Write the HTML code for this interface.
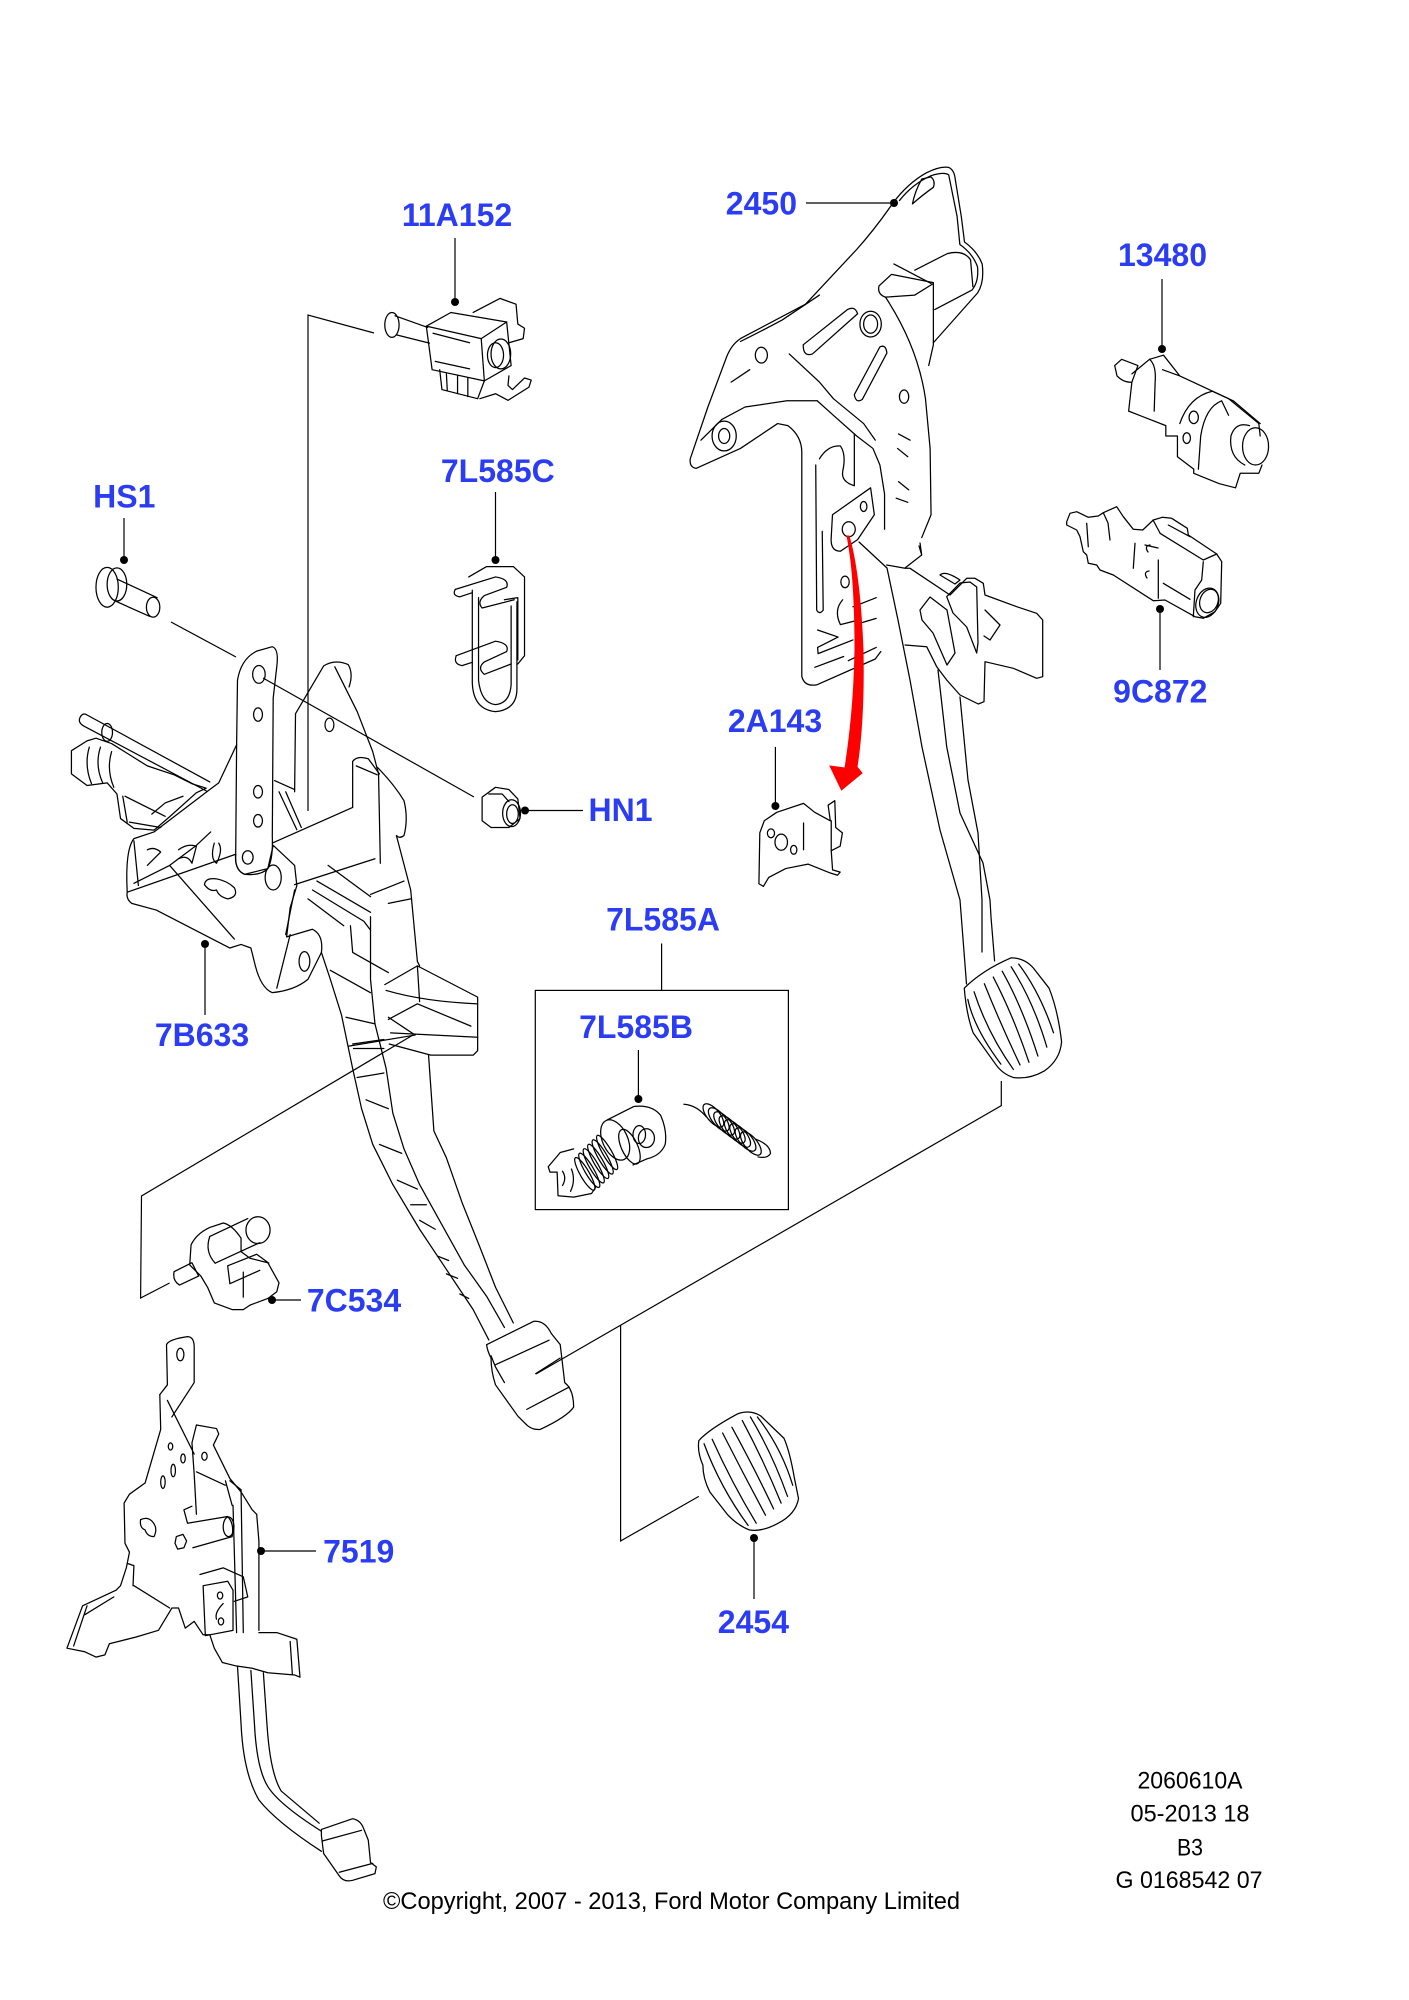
<!DOCTYPE html>
<html><head><meta charset="utf-8">
<style>
html,body{margin:0;padding:0;background:#fff;}
svg{display:block;}
.d *{fill:none;stroke:#000;stroke-width:1.25;vector-effect:non-scaling-stroke;stroke-linejoin:round;stroke-linecap:round;}
.l{fill:none;stroke:#000;stroke-width:1.2;}
.lab{font-family:"Liberation Sans",Arial,sans-serif;font-weight:bold;font-size:32px;fill:#2b3cf5;text-anchor:middle;}
.bt{font-family:"Liberation Sans",Arial,sans-serif;font-size:24px;fill:#000;text-anchor:middle;}
</style></head>
<body>
<svg width="1409" height="2000" viewBox="0 0 1409 2000" xmlns="http://www.w3.org/2000/svg">
<rect width="1409" height="2000" fill="#fff"/>

<!-- ===== Zoom1 region parts: 11A152, 7L585C, HS1 ===== -->
<g class="d" transform="translate(0,150) scale(0.4464,0.4145)">
  <ellipse cx="878" cy="422" rx="16" ry="30"/>
  <path d="M885,400 L958,428 M888,446 L962,466"/>
  <path d="M955,425 L1010,392 L1135,415 L1078,455 Z"/>
  <path d="M955,425 L968,530 L1085,557 L1078,455"/>
  <path d="M1135,415 L1145,520 L1085,557"/>
  <ellipse cx="1122" cy="492" rx="22" ry="36"/>
  <ellipse cx="1110" cy="495" rx="18" ry="30"/>
  <path d="M1060,392 L1120,358 L1156,372 L1160,420 L1175,430 L1172,455 L1140,465"/>
  <path d="M970,442 L1052,465 M975,510 L1052,528"/>
  <path d="M985,530 L990,578 L1070,600 L1085,557 M1000,540 L1002,580 M1025,545 L1025,588 M1048,550 L1048,595"/>
  <path d="M1075,600 L1110,588 L1138,604 L1185,572 L1190,555 L1175,550 L1148,578 L1138,568 L1140,545"/>
  <!-- 7L585C clip -->
  <path d="M1058,1062 L1058,1285 Q1060,1350 1110,1355 Q1158,1350 1158,1300 L1158,1090"/>
  <path d="M1072,1080 L1072,1280 Q1078,1335 1110,1338 Q1142,1335 1145,1290 L1145,1100"/>
  <path d="M1020,1060 L1110,1030 Q1142,1035 1135,1055 L1085,1075 Q1068,1090 1080,1105 L1152,1085"/>
  <path d="M1020,1060 Q1012,1075 1030,1078 L1058,1068"/>
  <path d="M1022,1220 L1110,1185 Q1142,1190 1135,1210 L1085,1235 Q1068,1250 1085,1265 L1145,1240"/>
  <path d="M1022,1220 Q1015,1240 1035,1244 L1058,1236"/>
  <path d="M1050,1030 L1090,1005 L1150,1005 L1175,1030 L1175,1220 L1160,1240"/>
  <path d="M1130,1085 L1160,1080 L1160,1230"/>
  <!-- HS1 bolt -->
  <ellipse cx="240" cy="1055" rx="25" ry="48"/>
  <ellipse cx="262" cy="1048" rx="22" ry="40"/>
  <path d="M262,1035 L352,1080 M258,1088 L335,1125"/>
  <ellipse cx="343" cy="1103" rx="15" ry="24"/>
</g>

<!-- ===== Zoom2 region parts: brake bracket 2450, 13480 ===== -->
<g class="d" transform="translate(680,150) scale(0.4649,0.4145)">
  <path d="M458,128 Q490,80 530,55 Q560,38 578,42 Q590,48 592,70 L605,160 L612,222 Q640,245 650,275 Q655,320 640,345 L545,465"/>
  <path d="M472,122 Q500,82 540,62 Q568,52 578,60 L596,160 L602,228 Q630,250 640,282 Q643,318 628,338 L548,385"/>
  <path d="M458,128 Q420,190 380,240 Q330,300 270,372 L130,455 Q110,470 100,500 L60,620 L22,745 Q20,766 35,768 L130,720 L210,660 L232,665"/>
  <path d="M130,462 Q170,440 220,410 L300,350 M110,560 L150,530 M45,700 L90,650 L140,620 L230,605 L295,605"/>
  <path d="M295,605 L330,640 L380,690 L415,720 L430,760 L440,830 L440,915"/>
  <path d="M235,492 L300,560 L330,600 M330,600 L395,660 L420,700"/>
  <path d="M520,70 Q505,100 500,130 Q520,110 545,90 Q550,75 540,65 Z"/>
  <ellipse cx="175" cy="495" rx="13" ry="19"/>
  <ellipse cx="95" cy="690" rx="26" ry="36"/>
  <ellipse cx="95" cy="690" rx="12" ry="18"/>
  <ellipse cx="410" cy="420" rx="23" ry="31"/>
  <ellipse cx="410" cy="420" rx="15" ry="22"/>
  <ellipse cx="482" cy="595" rx="10" ry="16"/>
  <path d="M265,470 L360,385 Q376,375 382,395 L285,492 Q265,500 265,470 Z"/>
  <path d="M375,590 L430,475 Q443,468 445,490 L392,602 Q378,612 375,590 Z"/>
  <path d="M428,328 L455,300 L545,320 L545,385 M428,328 Q424,348 442,355 L505,350 L545,322"/>
  <path d="M460,275 L540,322 M505,290 L575,250 Q610,240 625,265 L630,330"/>
  <path d="M442,355 C480,420 515,500 528,600 L538,720 L540,880 L520,935"/>
  <path d="M545,385 L545,470 L535,520"/>
  <path d="M470,685 L495,700 M468,720 L490,740 M470,800 L492,820 M465,840 L490,850"/>
  <path d="M232,665 Q262,690 262,730 L262,1270 Q268,1296 295,1290 L420,1228 L432,1210"/>
  <path d="M292,760 L294,1110 Q300,1122 308,1110 L306,920"/>
  <path d="M300,745 Q318,712 345,714 Q358,735 350,775 Q346,800 375,810 L375,685"/>
  <path d="M328,880 L410,815 L418,880 L382,940 L345,968 Q325,968 325,940 Z"/>
  <ellipse cx="363" cy="915" rx="14" ry="18"/>
  <ellipse cx="395" cy="860" rx="7" ry="12"/>
  <ellipse cx="355" cy="1042" rx="9" ry="14"/>
  <path d="M350,1085 Q330,1110 345,1145 L380,1135"/>
  <path d="M296,1158 L340,1175 L296,1200 L297,1215 L372,1182 M290,1248 L352,1222"/>
  <path d="M372,1102 L422,1080 M386,1142 L422,1130 M362,1232 L422,1200"/>
  <!-- 13480 switch -->
  <path d="M935,520 L950,505 L985,520 L972,560 Q955,562 940,545 Z"/>
  <path d="M972,540 L1010,505 L1040,495 L1075,545 L1180,600 L1245,660 L1248,690"/>
  <path d="M972,560 L965,630 L1045,665 L1045,690 L1070,690 L1070,740 L1105,770 L1105,780 L1160,805 L1195,815 L1205,780 L1245,780 L1252,760"/>
  <ellipse cx="1238" cy="715" rx="28" ry="45"/>
  <path d="M1215,760 Q1180,740 1185,690 Q1195,655 1225,665"/>
  <path d="M1075,660 Q1095,595 1145,582 L1190,605 L1248,660"/>
  <path d="M1115,770 L1120,690 Q1130,620 1165,605 L1180,640"/>
  <path d="M1010,505 Q1025,520 1022,560 L1020,630 M1038,530 L1075,545"/>
  <ellipse cx="1105" cy="645" rx="10" ry="15"/>
  <ellipse cx="1090" cy="695" rx="8" ry="13"/>
</g>

<!-- 9C872 switch (actual coords) -->
<g class="d">
  <path d="M1066.7,521.7 L1070,513.3 L1076.7,511.7 L1088.3,517.3 L1098.3,516 L1103.3,512.7 L1116.7,506.7 L1120,511.7 L1123.3,516.7 L1133.3,529.3 L1142.7,530 L1153.3,520 L1162.3,517.3 L1171.7,518.3 L1187.3,528.3 L1188.3,535 L1216.7,554 L1221.7,561.7 L1220.7,603.3 L1215,611.7 L1203.3,618.3 L1195,616.7 L1165,600 L1153.3,600.7 L1113.3,575 L1100,570 L1096.7,565 L1088.3,563.3 L1086.7,555 L1083.3,551.7 L1080,536.7 L1076.7,530 L1066.7,525 Z"/>
  <ellipse cx="1207.3" cy="602.7" rx="11" ry="15" transform="rotate(20 1207.3 602.7)"/>
  <ellipse cx="1209" cy="601" rx="9" ry="12" transform="rotate(20 1209 601)"/>
  <path d="M1160,533.3 L1203.3,560 L1216.7,554 M1168.3,525 L1190,536.7"/>
  <path d="M1203.3,561.7 L1201.7,580 L1195,590 L1193.3,616.7"/>
  <path d="M1158.3,560 L1158.3,598.3 M1163.3,583.3 L1190,599.3"/>
  <path d="M1135,543.3 L1133.3,568.3 M1086.7,523.3 L1088.3,546.7 M1103.3,512.7 L1108,523 L1110,540"/>
  <path d="M1148,552 Q1144,546 1150,545 M1147,578 Q1143,572 1149,571"/>
  <path d="M1153,520 L1160,533 M1145,545 L1158,548"/>
</g>

<!-- brake pedal arm + flange (actual coords) -->
<g class="d">
  <path d="M859,542 L887,568 L898,620 L910,680 L922,747 L940,830 L960,900 L966.5,984"/>
  <path d="M919,546 L921.7,555 L920,543 M905,568 L921.7,555"/>
  <path d="M938,670 L946.7,746.7 L960,813 L983,863 L990,900 L991,917 L994.6,961"/>
  <path d="M960,697 L968,780 L978,833 L982,900 L982,952"/>
  <path d="M886.7,565 L905,568.3 L910,568.3 L950,595 L966.7,578.3 L975,578.3 L983.3,583.3 L985,595 L1016.7,606.7 L1036.7,613.3 L1042.7,620 L1042.7,676.7 L1036.7,678.3 L1013.3,668.3 L985,661.7 L984,701.7 L978.3,704 L960,695 L946.7,680 L936.7,666.7 L926.7,646.7 L905,645"/>
  <path d="M920,610 L930,597 L947,610 L955,653 L947,665 L933,633 L922,620 Z"/>
  <path d="M946.7,596.7 L960,583 L970,582 L976.7,587 L978,643 L976.7,653 L966.7,627 L953,613 Z"/>
  <path d="M940,575 Q945,570 960,580 L955,584 Z"/>
  <path d="M985,610 L1000,625 L990,640 L984,636"/>
</g>

<!-- red arrow -->
<path d="M849,536 C856,560 861,600 863,650 C864,700 862,735 857,767 L862,773 L841.5,790 L830,766 L845,768 C850,735 854,700 855,650 C855,600 852,560 847,536 Z" fill="#ff0000" stroke="#ff0000" stroke-width="1"/>

<!-- ===== Zoom3 region: clutch assembly, HN1, 7C534 ===== -->
<g class="d" transform="translate(0,640) scale(0.4464)">
  <path d="M180,172 Q172,186 192,195 L462,338 M195,168 L470,318 M180,172 Q186,162 195,168"/>
  <ellipse cx="240" cy="207" rx="12" ry="20"/>
  <path d="M160,248 L160,300 L195,326 L240,320 L262,345 L270,400 L300,422 L345,426 L380,396 L440,342 L462,332 L430,322 L390,302 L330,282 L250,232 L215,220 L195,226 Z"/>
  <path d="M200,240 Q188,280 205,322 M225,240 Q212,280 230,320 M250,250 Q238,290 255,330"/>
  <path d="M275,350 L285,408 M280,350 L370,395 M290,408 L360,420"/>
  <path d="M340,390 L370,365 L410,350"/>
  <path d="M530,240 L532,90 Q540,42 575,25 L610,15 Q625,20 620,60 L612,130 L610,440 Q612,490 600,512 Q585,528 548,525 Q525,515 528,480 Z"/>
  <ellipse cx="580" cy="77" rx="14" ry="20"/>
  <ellipse cx="578" cy="167" rx="10" ry="15"/>
  <ellipse cx="578" cy="340" rx="10" ry="14"/>
  <ellipse cx="578" cy="405" rx="10" ry="14"/>
  <ellipse cx="555" cy="487" rx="12" ry="15"/>
  <path d="M660,340 L662,165 L725,58 Q750,42 780,55 Q792,75 782,105"/>
  <path d="M750,60 L800,160 L835,250 L848,300 L852,500"/>
  <path d="M845,285 Q882,322 905,360 Q915,400 905,438 Q895,446 888,438 L920,560 L935,720 L940,730"/>
  <ellipse cx="738" cy="190" rx="10" ry="15"/>
  <path d="M610,455 L790,375 M660,548 L840,490"/>
  <path d="M790,375 L790,272 Q800,258 825,266 L850,300 M798,282 L845,302"/>
  <path d="M615,315 L660,335 M625,340 L665,425 M640,340 L675,420"/>
  <path d="M285,565 Q280,470 300,445 L345,430 L470,335 L490,320 L530,235 M528,480 Q525,515 548,525 L600,512 L612,460 L660,505 L665,550 L650,600 L642,665 L700,648 Q725,660 720,700 L690,760 Q660,785 610,790 Q585,780 572,730 L562,690 L540,682 L515,690 L350,605 L295,590 Q282,580 285,565 Z"/>
  <path d="M300,545 L380,505 L525,670 M380,505 L440,460 L472,430"/>
  <path d="M330,470 Q345,462 360,475 L330,505 M300,450 L310,550"/>
  <path d="M400,470 Q420,455 440,462 L430,500 Q420,480 400,490"/>
  <path d="M480,455 Q470,490 485,500 Q500,470 490,455"/>
  <ellipse cx="612" cy="532" rx="18" ry="28"/>
  <path d="M458,548 Q460,532 485,535 Q510,540 525,555 Q535,575 510,580 Q490,575 485,560 Q470,565 458,548 Z"/>
  <ellipse cx="682" cy="720" rx="12" ry="22"/>
  <path d="M640,660 L660,560 M620,780 L650,660"/>
  <path d="M720,700 L740,760 L765,840 L790,960 L810,1050 L835,1130 L880,1220 L940,1320 L1000,1410 L1060,1500 L1095,1568"/>
  <path d="M830,620 L830,760 L840,860 L865,960 L880,1060 L905,1140 L940,1220 L990,1310 L1040,1400 L1090,1470 L1130,1540"/>
  <path d="M960,930 L972,1100 L1000,1160 L1035,1260 L1075,1360 L1110,1450 L1150,1530"/>
  <path d="M700,560 L815,630 L830,650 M710,540 L830,610"/>
  <path d="M735,505 L830,575 M690,580 L770,640 M740,740 L830,790 M775,845 L840,860 M790,905 L860,895 M792,915 L860,915 M820,1030 L870,1050 M850,1130 L900,1150 M890,1210 L935,1230 M920,1265 L955,1265 M940,1300 L975,1320 M980,1380 L1005,1390 M1000,1420 L1025,1430 M1030,1465 L1050,1475"/>
  <path d="M780,910 L930,885 L870,845 M800,980 L860,970"/>
  <path d="M862,772 L935,730 L1070,800 L1070,920 L1060,930 L965,930 L872,905"/>
  <path d="M935,730 L940,810 M865,785 Q950,810 1070,815 M870,850 L935,815 L1055,865 M875,880 L1070,890 M785,640 L790,700 L870,745"/>
  <path d="M830,570 L905,540 M870,590 L920,580"/>
  <path d="M1080,352 L1110,330 L1140,335 L1160,356 L1165,400 L1140,420 L1100,420 L1080,405 Z"/>
  <ellipse cx="1146" cy="388" rx="20" ry="30"/>
  <ellipse cx="1148" cy="390" rx="13" ry="21"/>
  <path d="M1095,345 L1125,345 L1140,362"/>
  <path d="M390,1415 L430,1395 L445,1425 L402,1445 Q386,1435 390,1415 Z"/>
  <path d="M425,1400 L428,1355 Q440,1330 470,1316 L500,1306 Q520,1310 540,1340 L540,1370 L560,1385 L600,1395 L625,1440 L620,1460 L600,1475 L560,1490 L545,1500 L520,1500 L480,1485 L465,1450 L450,1425 Z"/>
  <path d="M470,1336 L555,1296 M482,1396 L582,1350"/>
  <ellipse cx="578" cy="1322" rx="27" ry="30"/>
  <path d="M470,1336 Q458,1370 482,1396"/>
  <path d="M510,1402 L575,1376 L602,1396 M515,1442 L582,1412 M545,1416 L545,1472 M510,1402 L515,1442"/>
</g>

<!-- ===== Zoom4 region: 2A143, 7L585B, spring, brake pad ===== -->
<g class="d" transform="translate(500,640) scale(0.4464)">
  <path d="M1040,780 Q1080,740 1145,712 Q1175,712 1195,735 L1230,780 Q1250,830 1258,900 Q1255,940 1220,965 Q1185,985 1150,980 Q1125,972 1110,950 L1060,880 Q1045,840 1040,780 Z"/>
  <path d="M1048,805 Q1062,870 1122,950"/>
  <path d="M1062,788 Q1092,880 1150,962 M1085,770 Q1122,862 1165,952 M1105,755 Q1150,842 1185,946 M1125,742 Q1170,822 1205,932 M1145,732 Q1195,810 1225,912 M1162,726 Q1210,790 1240,880"/>
  <path d="M582,432 L592,405 L620,386 L680,366 L705,386 L740,405 L735,370 L750,360 L752,420 L767,432 L762,462 L742,472 L745,515 L762,520 L756,527 L740,522 L690,502 L640,512 L602,532 L590,552 L580,546 Z"/>
  <path d="M680,410 L680,470 M742,405 L742,472"/>
  <ellipse cx="607" cy="433" rx="8" ry="10"/>
  <ellipse cx="630" cy="453" rx="14" ry="18"/>
  <ellipse cx="658" cy="470" rx="7" ry="10"/>
  <path d="M240,1075 L300,1045 Q340,1040 360,1065 Q375,1100 370,1130 Q360,1155 330,1162 L298,1176"/>
  <ellipse cx="328" cy="1116" rx="18" ry="21"/>
  <ellipse cx="312" cy="1108" rx="14" ry="20"/>
  <ellipse cx="258" cy="1120" rx="28" ry="48" transform="rotate(-25 258 1120)"/>
  <ellipse cx="290" cy="1135" rx="18" ry="42" transform="rotate(-25 290 1135)"/>
  <g>
    <ellipse cx="240" cy="1148" rx="10" ry="44" transform="rotate(-30 240 1148)"/>
    <ellipse cx="230" cy="1158" rx="10" ry="44" transform="rotate(-30 230 1158)"/>
    <ellipse cx="220" cy="1168" rx="10" ry="44" transform="rotate(-30 220 1168)"/>
    <ellipse cx="210" cy="1178" rx="10" ry="44" transform="rotate(-30 210 1178)"/>
    <ellipse cx="200" cy="1188" rx="10" ry="44" transform="rotate(-30 200 1188)"/>
    <ellipse cx="190" cy="1196" rx="10" ry="42" transform="rotate(-30 190 1196)"/>
  </g>
  <path d="M165,1140 L135,1148 L108,1180 L112,1192 L128,1192 L130,1245 L165,1248 L205,1240 L215,1225"/>
  <path d="M140,1190 Q150,1205 140,1222 M160,1185 Q170,1210 158,1235"/>
  <path d="M412,1040 Q440,1042 462,1068"/>
  <g>
    <ellipse cx="478" cy="1065" rx="14" ry="32" transform="rotate(-40 478 1065)"/>
    <ellipse cx="490" cy="1074" rx="14" ry="32" transform="rotate(-40 490 1074)"/>
    <ellipse cx="502" cy="1083" rx="14" ry="32" transform="rotate(-40 502 1083)"/>
    <ellipse cx="514" cy="1092" rx="14" ry="32" transform="rotate(-40 514 1092)"/>
    <ellipse cx="526" cy="1101" rx="14" ry="32" transform="rotate(-40 526 1101)"/>
    <ellipse cx="538" cy="1110" rx="14" ry="32" transform="rotate(-40 538 1110)"/>
    <ellipse cx="550" cy="1119" rx="14" ry="32" transform="rotate(-40 550 1119)"/>
    <ellipse cx="562" cy="1128" rx="14" ry="32" transform="rotate(-40 562 1128)"/>
  </g>
  <path d="M572,1118 Q605,1130 606,1150 Q600,1162 578,1158"/>
</g>

<!-- ===== Zoom5 region: 7519, clutch pad ===== -->
<g class="d" transform="translate(0,1300) scale(0.4464)">
  <path d="M1090,100 L1195,48 Q1220,45 1235,75 L1255,100 L1265,185 Q1285,200 1285,240 Q1270,262 1210,290 Q1190,292 1175,275 L1160,260 L1110,190 Q1100,160 1100,130 Q1092,115 1090,100 Z"/>
  <path d="M1110,145 L1230,90 M1180,245 L1275,195 M1100,125 L1110,150 L1130,185 M1200,165 L1255,130"/>
  <path d="M358,212 L375,190 L373,100 Q378,88 420,82 Q436,82 435,110 L435,185 L385,262"/>
  <ellipse cx="404" cy="122" rx="8" ry="14"/>
  <path d="M358,212 L360,290 L325,410 L290,435 L278,455 L280,545 L290,565 L283,600 L270,640 L260,650 L185,685 L150,780 L190,788 L215,800 L235,795 L245,770 L305,755 L355,740 L385,690 L400,690 L415,735 L435,720 L455,750 L470,750"/>
  <path d="M440,280 L485,288 L490,300 L478,325 L515,400 L540,430 L565,470 L575,480 L580,540 L580,740"/>
  <path d="M440,280 L430,320 L435,390 L440,480 M375,225 L435,345 M440,385 L505,415"/>
  <ellipse cx="382" cy="328" rx="5" ry="8"/>
  <ellipse cx="410" cy="355" rx="5" ry="10"/>
  <ellipse cx="388" cy="382" rx="5" ry="14"/>
  <ellipse cx="365" cy="408" rx="5" ry="14"/>
  <ellipse cx="458" cy="350" rx="6" ry="9"/>
  <path d="M395,530 L410,525 L418,540 L412,555 L398,558 L392,545 Z"/>
  <path d="M315,492 Q330,485 340,495 Q355,510 345,530 Q330,530 325,515 Q312,510 315,492 Z"/>
  <path d="M420,500 L510,485 Q525,500 520,530 L432,555 M412,470 L420,500 M412,470 L430,462"/>
  <ellipse cx="512" cy="508" rx="12" ry="22"/>
  <path d="M515,405 L540,425 L545,745 M522,460 L530,745 M505,405 L520,460"/>
  <path d="M455,640 L510,630 L522,650 L522,740 L460,752 Z M448,615 L500,600 L545,620 L555,665 L525,675"/>
  <ellipse cx="493" cy="662" rx="6" ry="8"/>
  <ellipse cx="495" cy="720" rx="6" ry="8"/>
  <path d="M500,680 Q480,700 485,715"/>
  <path d="M580,745 L620,745 L665,760 L672,845 L660,840 L600,835 L565,825 L530,820 L498,812 L480,780 L470,750 M650,765 L655,840"/>
  <path d="M532,820 L540,950 Q545,1060 580,1120 Q620,1170 720,1235"/>
  <path d="M562,830 L570,950 Q575,1050 600,1090 Q625,1130 720,1190"/>
  <path d="M590,835 L598,950 Q605,1060 630,1100 L715,1172"/>
  <path d="M720,1186 L790,1162 Q808,1165 815,1185 L825,1210 L830,1260 L843,1270 L840,1285 L790,1300 Q770,1305 760,1290 L725,1240 L720,1200 Z"/>
  <path d="M722,1212 L810,1188 M760,1282 L835,1262"/>
  <path d="M195,685 L165,775 M190,705 L255,665 M300,640 L380,690 M285,590 L300,595 L298,640"/>
</g>

<!-- ===== Zoom6 region: 2454 pad ===== -->
<g class="d" transform="translate(500,1300) scale(0.5797,0.4464)">
  <path d="M343,315 Q360,290 410,255 Q432,245 450,260 L490,310 Q500,340 508,400 L515,445 Q510,480 480,500 Q452,520 430,515 Q410,505 392,480 L362,430 Q350,400 350,370 Q340,340 343,315 Z"/>
  <path d="M352,322 Q380,420 428,505 M366,312 Q400,410 442,500 M384,298 Q420,390 458,482 M400,285 Q440,380 472,468 M418,270 Q455,360 485,455 M432,262 Q470,345 496,440 M444,262 Q485,330 505,415"/>
</g>

<!-- ===== leader / explode lines ===== -->
<g class="l">
  <path d="M455,238 L455,302"/>
  <path d="M374,333 L308,315 L308,811"/>
  <path d="M806,203 L894,203"/>
  <path d="M1162,279 L1162,349"/>
  <path d="M1160,609 L1160,670"/>
  <path d="M495.5,492 L495.5,560"/>
  <path d="M124,518 L124,560"/>
  <path d="M171,622 L236,657 M263,678 L474,797"/>
  <path d="M525,810.5 L583,810.5"/>
  <path d="M775.4,747 L775.4,806"/>
  <path d="M205,944 L205,1015"/>
  <path d="M661.6,943.5 L661.6,990.4"/>
  <rect x="535.3" y="990.4" width="253.1" height="219.2"/>
  <path d="M638.4,1050 L638.4,1099"/>
  <path d="M272,1300 L301,1300"/>
  <path d="M413,1035 L141.5,1196 L140.6,1298 L169.6,1283"/>
  <path d="M261,1551 L316,1551"/>
  <path d="M1001.3,1081 L1001.3,1105.6 L536,1374"/>
  <path d="M620.6,1325.2 L620.6,1541 L698.8,1496.4"/>
  <path d="M754,1538 L754,1599"/>
</g>

<g fill="#000">
  <circle cx="455" cy="302" r="4"/>
  <circle cx="894" cy="203" r="4"/>
  <circle cx="1162" cy="349" r="4"/>
  <circle cx="1160" cy="609" r="4"/>
  <circle cx="495.5" cy="560" r="4"/>
  <circle cx="124" cy="560" r="4"/>
  <circle cx="525" cy="810.5" r="4"/>
  <circle cx="775.4" cy="806" r="4"/>
  <circle cx="205" cy="944" r="4"/>
  <circle cx="638.4" cy="1099" r="4"/>
  <circle cx="272" cy="1300" r="4"/>
  <circle cx="261" cy="1551" r="4"/>
  <circle cx="754" cy="1538" r="4"/>
</g>

<g class="lab">
  <text x="457" y="226">11A152</text>
  <text x="761.4" y="214.5">2450</text>
  <text x="1162.5" y="266">13480</text>
  <text x="497.8" y="482">7L585C</text>
  <text x="124.3" y="507.5">HS1</text>
  <text x="620.5" y="821">HN1</text>
  <text x="1160.3" y="702.5">9C872</text>
  <text x="775" y="732">2A143</text>
  <text x="202" y="1046">7B633</text>
  <text x="663" y="930.5">7L585A</text>
  <text x="636" y="1038">7L585B</text>
  <text x="354" y="1311.3">7C534</text>
  <text x="358.7" y="1562.5">7519</text>
  <text x="753.4" y="1633">2454</text>
</g>

<g class="bt">
  <text x="1190" y="1788.5" textLength="105" lengthAdjust="spacingAndGlyphs">2060610A</text>
  <text x="1190" y="1821.5" textLength="119" lengthAdjust="spacingAndGlyphs">05-2013 18</text>
  <text x="1190" y="1855.5" textLength="26" lengthAdjust="spacingAndGlyphs">B3</text>
  <text x="1189" y="1888" textLength="147" lengthAdjust="spacingAndGlyphs">G 0168542 07</text>
  <text x="671.5" y="1909" textLength="577" lengthAdjust="spacingAndGlyphs">©Copyright, 2007 - 2013, Ford Motor Company Limited</text>
</g>
</svg>
</body></html>
